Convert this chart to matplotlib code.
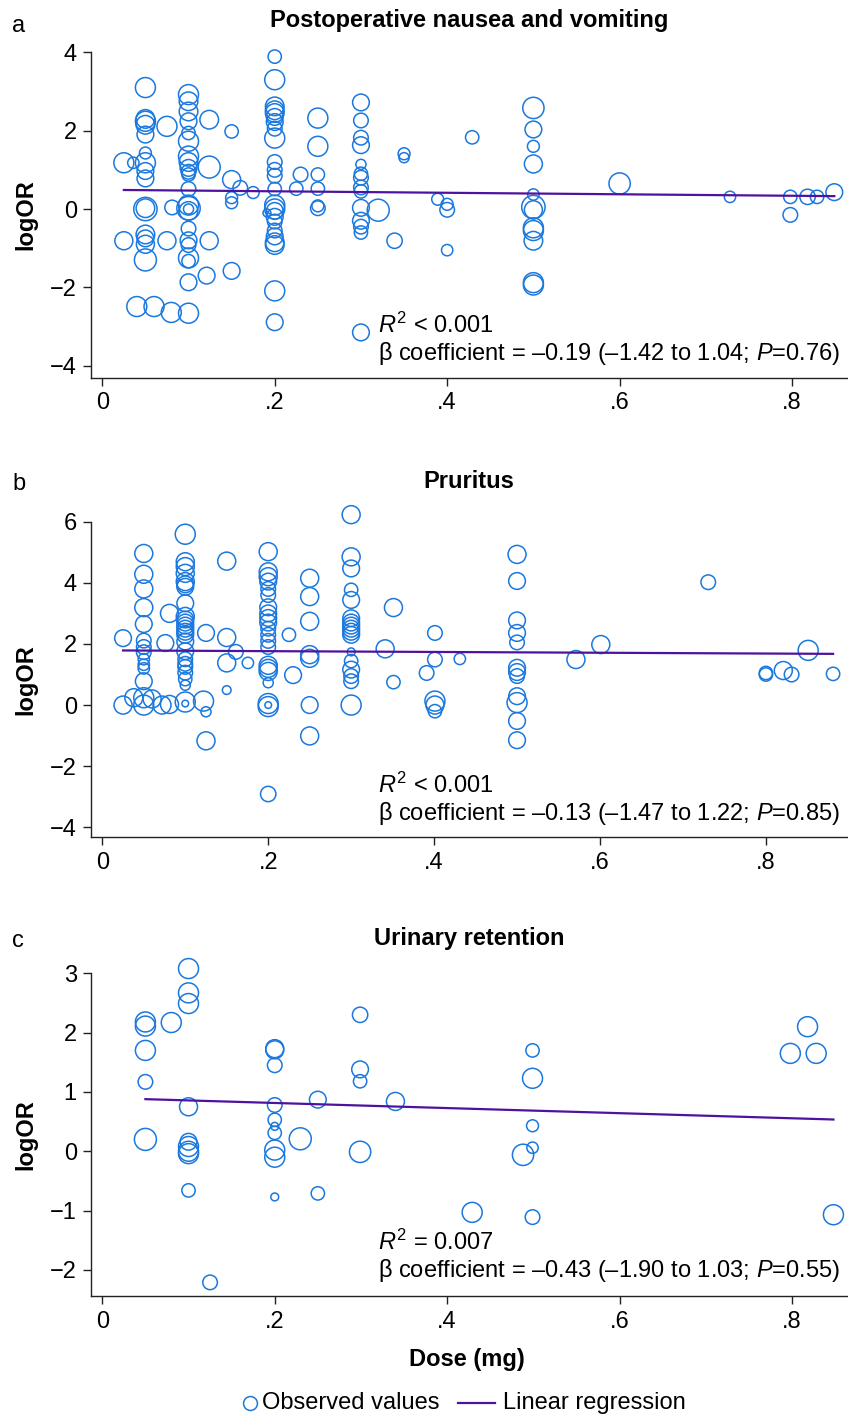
import numpy as np
import matplotlib
matplotlib.use("Agg")
import matplotlib.pyplot as plt
from matplotlib.lines import Line2D

plt.rcParams['font.family'] = ['Liberation Sans', 'DejaVu Sans']
plt.rcParams['mathtext.fontset'] = 'custom'
plt.rcParams['mathtext.rm'] = 'Liberation Sans'
plt.rcParams['mathtext.it'] = 'Liberation Sans:italic'
plt.rcParams['axes.unicode_minus'] = True

# ---------------- data ----------------
# Panel a: Postoperative nausea and vomiting  (dose mg, logOR, study weight)
dose_a = ([0.025, 0.025, 0.036, 0.04] + [0.05] * 15 + [0.081, 0.075, 0.075, 0.06, 0.08, 0.1]
          + [0.1] * 22 + [0.124, 0.124, 0.124, 0.121] + [0.15] * 5 + [0.16, 0.175]
          + [0.2] * 24 + [0.191, 0.225, 0.23] + [0.25] * 6 + [0.3] * 14
          + [0.32, 0.339, 0.35, 0.35, 0.389, 0.4, 0.4, 0.4, 0.429] + [0.5] * 12
          + [0.6, 0.728, 0.798, 0.798, 0.818, 0.829, 0.849])
logor_a = ([1.18, -0.81, 1.18, -2.49]
           + [3.1, 2.24, 2.3, 2.15, 1.9, 1.43, 1.18, 0.97, 0.78, 0.0, 0.02, -0.65, -0.75, -0.9, -1.3]
           + [0.04, 2.11, -0.81, -2.49, -2.64, -2.66]
           + [2.92, 2.75, 2.49, 2.24, 1.94, 1.73, 1.35, 1.2, 1.05, 0.95, 0.88, 0.51, 0.1, 0.02, -0.05,
              0.0, -0.5, -0.8, -0.92, -1.25, -1.33, -1.87]
           + [2.28, 1.07, -0.81, -1.70] + [1.98, 0.75, 0.29, 0.16, -1.58] + [0.54, 0.42]
           + [3.89, 3.3, 2.62, 2.52, 2.45, 2.35, 2.22, 2.05, 1.81, 1.2, 1.0, 0.85, 0.51, 0.1, 0.0,
              -0.05, -0.2, -0.32, -0.55, -0.7, -0.85, -0.92, -2.09, -2.89]
           + [-0.1, 0.52, 0.88] + [2.32, 1.6, 0.88, 0.52, 0.02, 0.08]
           + [2.72, 2.26, 1.82, 1.63, 1.14, 0.9, 0.8, 0.55, 0.45, 0.03, -0.3, -0.45, -0.6, -3.15]
           + [-0.03, -0.81, 1.41, 1.31, 0.25, 0.12, -0.02, -1.05, 1.83]
           + [2.58, 2.03, 1.6, 1.15, 0.37, 0.05, -0.02, -0.48, -0.55, -0.81, -1.88, -1.94]
           + [0.65, 0.31, 0.31, -0.15, 0.31, 0.31, 0.43])
weight_a = ([9, 7.3, 2.9, 9]
            + [9, 9, 7.8, 7.8, 6.3, 3.2, 9, 6.3, 6.3, 12.3, 7.8, 7.8, 6.3, 7.3, 10.9]
            + [4.8, 9, 7.3, 9, 9, 9]
            + [9, 7.8, 7.8, 6.3, 4, 9, 9, 7.8, 6.3, 4.8, 4, 4.8, 9, 12.3, 7.8,
               2.3, 4.8, 6.3, 4.8, 9, 4, 6.3]
            + [7.8, 10.9, 7.3, 6.3] + [4, 7.3, 3.2, 3.2, 6.3] + [4.8, 3.2]
            + [4, 9, 7.8, 7.8, 7.8, 6.3, 6.3, 4.8, 9, 4.8, 4.8, 4.8, 4, 9, 9,
               6.3, 6.3, 4.8, 4.8, 6.3, 7.8, 7.8, 9, 6.3]
            + [1.4, 4, 4.8] + [9, 9, 4, 4, 4.8, 3.2]
            + [6.3, 4.8, 4.8, 6.3, 2.3, 4, 4.8, 4.8, 4, 6.3, 6.3, 4.8, 4, 6.3]
            + [10.9, 5.3, 3.2, 2.3, 3.2, 3.2, 4.8, 2.9, 4]
            + [10.2, 6.3, 3.2, 7.3, 2.9, 12.3, 7.3, 9, 9, 7.8, 9, 9]
            + [10.2, 2.9, 4, 4.8, 5.3, 4, 6.3])

# Panel b: Pruritus
dose_b = ([0.025, 0.025, 0.038] + [0.05] * 14 + [0.06, 0.081, 0.076, 0.072, 0.081]
          + [0.1] * 25 + [0.125, 0.122, 0.125, 0.125] + [0.15] * 4 + [0.161, 0.1755]
          + [0.2] * 22 + [0.225, 0.23] + [0.25] * 7 + [0.3] * 17
          + [0.341, 0.351, 0.351, 0.391] + [0.401] * 5 + [0.431] + [0.5] * 12
          + [0.571, 0.601, 0.7305, 0.80, 0.80, 0.821, 0.831, 0.851, 0.881])
logor_b = ([2.19, 0.0, 0.24]
           + [4.96, 4.28, 3.8, 3.19, 2.65, 2.11, 1.9, 1.73, 1.5, 1.32, 1.2, 0.78, 0.24, 0.0]
           + [0.2, 3.0, 2.03, 0.0, 0.02]
           + [5.59, 4.69, 4.53, 4.31, 4.04, 3.95, 3.87, 3.33, 2.9, 2.8, 2.7, 2.6, 2.5, 2.4, 2.3, 2.08,
              1.76, 1.5, 1.35, 1.25, 1.06, 0.85, 0.65, 0.1, 0.05]
           + [2.36, 0.13, -0.22, -1.17] + [4.71, 2.21, 1.38, 0.49] + [1.74, 1.38]
           + [5.02, 4.36, 4.2, 4.04, 3.8, 3.6, 3.2, 3.0, 2.85, 2.7, 2.5, 2.3, 2.1, 1.9, 1.3, 1.2, 1.1,
              0.73, 0.05, -0.05, 0.0, -2.91]
           + [2.3, 0.98] + [4.15, 3.55, 2.74, 1.65, 1.53, 0.0, -1.01]
           + [6.23, 4.85, 4.47, 3.77, 3.44, 2.84, 2.7, 2.6, 2.5, 2.4, 2.3, 1.74, 1.44, 1.16, 0.95,
              0.78, 0.0]
           + [1.84, 3.19, 0.75, 1.05] + [2.36, 1.49, 0.13, 0.0, -0.2] + [1.51]
           + [4.93, 4.06, 2.77, 2.36, 2.05, 1.22, 1.08, 0.95, 0.29, 0.08, -0.52, -1.15]
           + [1.49, 1.98, 4.02, 1.05, 1.0, 1.13, 1.0, 1.79, 1.02])
weight_b = ([6.3, 7.3, 7.3]
            + [7.3, 7.3, 7.3, 7.3, 6.3, 4.8, 4.8, 4.8, 2.9, 2.9, 2.9, 6.3, 9, 9]
            + [7.3, 7.3, 6.3, 7.3, 7.3]
            + [9, 7.3, 7.3, 7.3, 7.3, 6.3, 6.3, 6.3, 7.3, 6.3, 6.3, 6.3, 6.3, 6.3, 6.3, 6.3,
               6.3, 4.8, 4.8, 4.8, 4.8, 4, 2.3, 9, 1]
            + [6.3, 9, 2.3, 7.3] + [7.3, 7.3, 7.3, 1.7] + [4.8, 2.9]
            + [7.3, 7.3, 7.3, 6.3, 4.8, 4.8, 6.3, 6.3, 6.3, 6.3, 4.8, 4.8, 4.8, 4.8, 7.3, 7.3, 7.3,
               2.3, 9, 9, 1, 5.3]
            + [4, 6.3] + [7.3, 7.3, 7.3, 7.3, 7.3, 6.3, 7.3]
            + [7.3, 7.3, 6.3, 4, 6.3, 6.3, 6.3, 6.3, 6.3, 6.3, 6.3, 1.4, 4, 6.3, 4.8,
               4.8, 9]
            + [7.3, 7.3, 4, 4.8] + [4.8, 4.8, 9, 7.3, 4] + [2.9]
            + [7.3, 6.3, 6.3, 6.3, 4.8, 6.3, 6.3, 4.8, 6.3, 9, 6.3, 6.3]
            + [7.3, 7.3, 4.8, 4, 4, 7.3, 4.8, 9, 4])

# Panel c: Urinary retention
dose_c = ([0.05] * 5 + [0.08] + [0.1] * 9 + [0.125] + [0.2] * 10
          + [0.2296, 0.25, 0.25] + [0.299] * 4 + [0.34, 0.429] + [0.499] * 5
          + [0.488, 0.798, 0.818, 0.828, 0.848])
logor_c = ([2.18, 2.11, 1.70, 1.17, 0.2, 2.17]
           + [3.08, 2.67, 2.49, 0.75, 0.16, 0.08, 0.0, -0.04, -0.66, -2.21]
           + [1.71, 1.73, 1.45, 0.78, 0.53, 0.42, 0.31, 0.02, -0.1, -0.77]
           + [0.21, 0.87, -0.71, 2.3, 1.38, 1.18, -0.01, 0.84, -1.03]
           + [1.70, 1.23, 0.43, 0.06, -1.11, -0.06, 1.65, 2.10, 1.65, -1.07])
weight_c = ([9, 9, 9, 4.8, 10.9, 9]
            + [9, 9, 9, 7.3, 6.3, 9, 9, 9, 4, 4.8]
            + [7.3, 7.3, 4.8, 4.8, 4, 1.4, 4, 9, 9, 1.4]
            + [10.9, 6.3, 4, 5.3, 6.3, 4, 10.2, 7.3, 9]
            + [4, 9, 3.2, 2.9, 4.8, 10.2, 9, 9, 9, 9])

# meta-regression lines (intercept, slope)
fit_a = (0.49, -0.19)
fit_b = (1.79, -0.13)
fit_c = (0.90, -0.43)

titles = ["Postoperative nausea and vomiting", "Pruritus", "Urinary retention"]
letters = ["a", "b", "c"]
stats_r2 = [r"$R^2$ < 0.001", r"$R^2$ < 0.001", r"$R^2$ = 0.007"]
stats_beta = ["β coefficient = –0.19 (–1.42 to 1.04; $P$=0.76)",
              "β coefficient = –0.13 (–1.47 to 1.22; $P$=0.85)",
              "β coefficient = –0.43 (–1.90 to 1.03; $P$=0.55)"]
yticks = [[-4, -2, 0, 2, 4], [-4, -2, 0, 2, 4, 6], [-2, -1, 0, 1, 2, 3]]
xticks = [0, 0.2, 0.4, 0.6, 0.8]
xticklabels = ["0", ".2", ".4", ".6", ".8"]
legend_labels = ["Observed values", "Linear regression"]

# ---------------- figure ----------------
W, H = 848, 1417
fig = plt.figure(figsize=(W / 100, H / 100), dpi=100)

blue = "#1a78de"
purple = "#4f129e"
FS = 17


def fx(px):
    return px / W


def fy(py):
    return 1 - py / H


# axes boxes in pixel coords (left, top, bottom)
boxes = [(90.7, 52.3, 377.7), (90.7, 521.7, 837.3), (90.7, 973.3, 1296.0)]
xlims = [(-0.01345, 0.8649), (-0.014, 0.899), (-0.01345, 0.8649)]
ylims = [(-4.306, 4), (-4.327, 6), (-2.44, 3)]
title_base = [27, 488, 945]
letter_base = [32, 490, 947]
r2_base = [333, 793, 1250]
beta_base = [360, 820, 1277]

datasets = [(dose_a, logor_a, weight_a, fit_a),
            (dose_b, logor_b, weight_b, fit_b),
            (dose_c, logor_c, weight_c, fit_c)]

for i, (xd, yd, wd, fit) in enumerate(datasets):
    n = min(len(xd), len(yd), len(wd))
    xd, yd, wd = np.array(xd[:n]), np.array(yd[:n]), np.array(wd[:n])
    left, top, bottom = boxes[i]
    ax = fig.add_axes([fx(left), fy(bottom), fx(W - left), (bottom - top) / H])
    ax.set_xlim(*xlims[i])
    ax.set_ylim(*ylims[i])
    ax.spines['top'].set_visible(False)
    ax.spines['right'].set_visible(False)
    for s in ('left', 'bottom'):
        ax.spines[s].set_linewidth(1.0)
        ax.spines[s].set_color('#222222')
    ax.scatter(xd, yd, s=wd * 23.0, facecolors='none', edgecolors=blue,
               linewidths=1.1, clip_on=False, zorder=3)
    xs = np.array([xd.min(), xd.max()])
    ax.plot(xs, fit[0] + fit[1] * xs, color=purple, lw=1.6, zorder=4)
    ax.set_xticks(xticks)
    ax.set_xticklabels(xticklabels)
    ax.set_yticks(yticks[i])
    ax.set_yticklabels([str(v).replace('-', '\u2212') for v in yticks[i]])
    ax.tick_params(axis='y', length=5.5, width=1.0, pad=4.5, labelsize=FS, color='#222222')
    ax.tick_params(axis='x', length=6, width=1.0, pad=4.5, labelsize=FS, color='#222222')
    ax.set_ylabel("logOR", fontsize=FS, fontweight='bold')
    ax.yaxis.set_label_coords((37 - left) / (W - left), 0.5)

    fig.text(fx(469), fy(title_base[i]), titles[i], ha='center', va='baseline',
             fontsize=FS, fontweight='bold')
    fig.text(fx(12), fy(letter_base[i]), letters[i], ha='left', va='baseline', fontsize=FS)
    fig.text(fx(378), fy(r2_base[i]), stats_r2[i], ha='left', va='baseline', fontsize=FS)
    fig.text(fx(378), fy(beta_base[i]), stats_beta[i], ha='left', va='baseline', fontsize=FS)

    if i == 2:
        fig.text(fx(467), fy(1366), "Dose (mg)", ha='center', va='baseline',
                 fontsize=FS, fontweight='bold')

# legend drawn in figure-pixel layout
leg_y = fy(1403)
fig.add_artist(Line2D([fx(250)], [leg_y], marker='o', linestyle='none', markerfacecolor='none',
                      markeredgecolor=blue, markeredgewidth=1.1, markersize=10,
                      transform=fig.transFigure))
fig.text(fx(262), leg_y, legend_labels[0], ha='left', va='center', fontsize=FS)
fig.add_artist(Line2D([fx(458), fx(495)], [leg_y, leg_y], color=purple, lw=1.6,
                      transform=fig.transFigure))
fig.text(fx(503), leg_y, legend_labels[1], ha='left', va='center', fontsize=FS)

fig.savefig("out.png", dpi=100)
